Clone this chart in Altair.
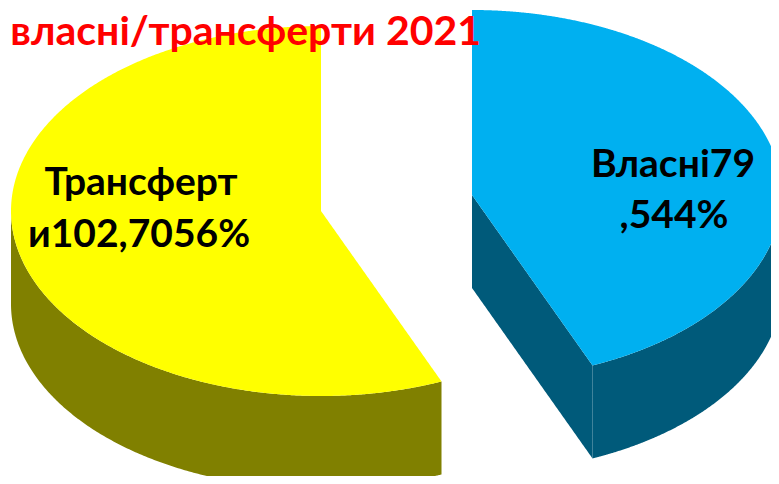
import altair as alt
import numpy as np
import pandas as pd

# values
categories = ["Власні", "Трансферти"]
values = [79.544, 102.7056]
title_text = "власні/трансферти 2021"
label_lines = [["Власні79", ",544%"], ["Трансферт", "и102,7056%"]]

# pseudo-3D geometry of the drawing
A, B, DEPTH = 310, 185, 93
CX_Y, CY_Y = 321, 211
CX_B, CY_B = 472, 195

cut = 2 * np.pi * values[0] / sum(values)
ux, uy = np.sin(cut), -np.cos(cut)


def low(x, cx, cy):
    return cy + B * np.sqrt(np.clip(1 - ((x - cx) / A) ** 2, 0, 1))


def up(x, cx, cy):
    return cy - B * np.sqrt(np.clip(1 - ((x - cx) / A) ** 2, 0, 1))


def part(xs, top, bottom):
    return pd.DataFrame({"px": xs, "top": top, "bot": bottom})


def dense(a, b, n=300):
    t = np.linspace(0, np.pi, n)
    return a + (b - a) * (1 - np.cos(t)) / 2


def line_y(x, cx, cy):
    return cy + (x - cx) / (A * ux) * (B * uy)


px_y, px_b = CX_Y + A * ux, CX_B + A * ux

xa = dense(CX_Y - A, CX_Y)
xb = np.linspace(CX_Y, px_y, 120)
xs = dense(CX_Y - A, px_y)
xc = np.linspace(CX_B, px_b, 120)
xd = dense(px_b, CX_B + A)

yellow_face = part(
    np.concatenate([xa, xb]),
    np.concatenate([up(xa, CX_Y, CY_Y), line_y(xb, CX_Y, CY_Y)]),
    np.concatenate([low(xa, CX_Y, CY_Y), low(xb, CX_Y, CY_Y)]),
)
blue_face = part(
    np.concatenate([xc, xd]),
    np.concatenate([up(xc, CX_B, CY_B), up(xd, CX_B, CY_B)]),
    np.concatenate([line_y(xc, CX_B, CY_B), low(xd, CX_B, CY_B)]),
)

x_scale = alt.Scale(domain=[8, 771], range=[0, 763], nice=False, zero=False)
y_scale = alt.Scale(domain=[8, 476], range=[0, 468], nice=False, zero=False)


def area(df, color):
    return alt.Chart(df).mark_area(color=color, clip=True, interpolate="linear", opacity=1).encode(
        x=alt.X("px:Q", scale=x_scale, axis=None, sort=None),
        y=alt.Y("top:Q", scale=y_scale, axis=None, stack=None),
        y2=alt.Y2("bot:Q"),
    )


labels = pd.DataFrame({
    "text": label_lines[1] + label_lines[0],
    "px": [CX_Y - 180, CX_Y - 182, CX_B + 201, CX_B + 202],
    "py": [CY_Y - 16, CY_Y + 36, CY_B - 18, CY_B + 33],
})
title_df = pd.DataFrame({"text": [title_text], "px": [481], "py": [45]})

FONT = "Lato"
label_marks = alt.Chart(labels).mark_text(
    font=FONT, fontWeight="bold", fontSize=39, color="#000000", align="center", baseline="alphabetic"
).encode(x=alt.X("px:Q", scale=x_scale), y=alt.Y("py:Q", scale=y_scale), text="text:N")
title_mark = alt.Chart(title_df).mark_text(
    font=FONT, fontWeight="bold", fontSize=41, color="#FF0000", align="right", baseline="alphabetic"
).encode(x=alt.X("px:Q", scale=x_scale), y=alt.Y("py:Q", scale=y_scale), text="text:N")

chart = alt.layer(
    area(part(xs, low(xs, CX_Y, CY_Y), low(xs, CX_Y, CY_Y) + DEPTH), "#808000"),
    area(part(xc, line_y(xc, CX_B, CY_B), line_y(xc, CX_B, CY_B) + DEPTH), "#005A7A"),
    area(part(xd, low(xd, CX_B, CY_B), low(xd, CX_B, CY_B) + DEPTH), "#005A7A"),
    area(yellow_face, "#FFFF00"),
    area(blue_face, "#00B0F0"),
    label_marks,
    title_mark,
).properties(
    width=763, height=468, padding=0, autosize=alt.AutoSizeParams(type="none"),
    background="#FFFFFF",
).configure_view(stroke=None)

chart.save("out.html", embed_options={"renderer": "svg", "actions": False})
